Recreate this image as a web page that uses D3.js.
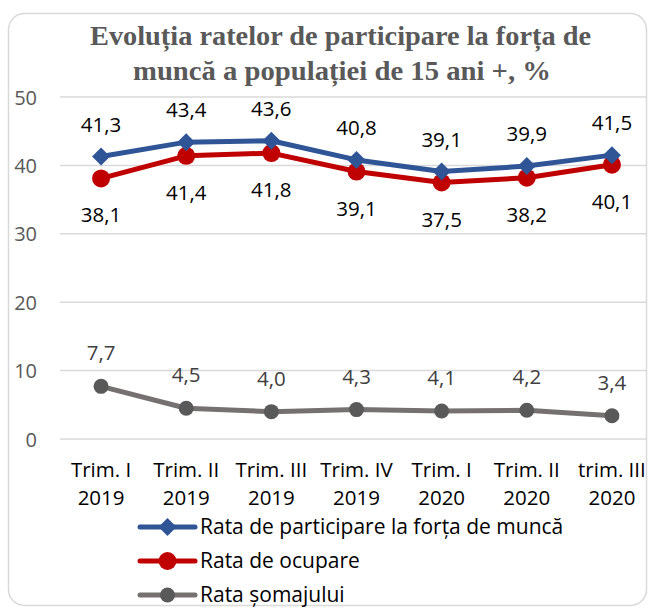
<!DOCTYPE html>
<html><head><meta charset="utf-8">
<script src="https://cdn.jsdelivr.net/npm/d3@7"></script>
<style>html,body{margin:0;padding:0;background:#fff;}svg{display:block;}</style>
</head><body>
<svg id="c" width="648" height="607"></svg>
<script>
const categories = [["Trim. I","2019"],["Trim. II","2019"],["Trim. III","2019"],["Trim. IV","2019"],["Trim. I","2020"],["Trim. II","2020"],["trim. III","2020"]];
const participare = [41.3,43.4,43.6,40.8,39.1,39.9,41.5];
const ocupare = [38.1,41.4,41.8,39.1,37.5,38.2,40.1];
const somaj = [7.7,4.5,4.0,4.3,4.1,4.2,3.4];
const yTicks = [0,10,20,30,40,50];
const seriesNames = ["Rata de participare la forța de muncă","Rata de ocupare","Rata șomajului"];
const titleLines = ["Evoluția ratelor de participare la forța de","muncă a populației de 15 ani +, %"];

const svg = d3.select("#c");
const font = "'Open Sans', Lato, sans-serif";

// border
svg.append("rect").attr("x",8.5).attr("y",13.5).attr("width",638).attr("height",592)
  .attr("rx",16).attr("fill","#fff").attr("stroke","#d9d9d9").attr("stroke-width",1.5);

// title
const titleBox = [{x:90,w:501,y:45},{x:133,w:418,y:80}];
svg.selectAll("text.title").data(titleLines).join("text")
  .attr("class","title")
  .attr("x",(d,i)=>titleBox[i].x).attr("y",(d,i)=>titleBox[i].y)
  .attr("textLength",(d,i)=>titleBox[i].w).attr("lengthAdjust","spacingAndGlyphs")
  .attr("font-family","'Liberation Serif', 'DejaVu Serif', serif").attr("font-weight","bold")
  .attr("font-size",27).attr("fill","#595959").text(d=>d);

const x = d3.scaleBand().domain(d3.range(categories.length)).range([58.5,654.5]).padding(0);
const cx = i => x(i) + x.bandwidth()/2;
const y = d3.scaleLinear().domain([0,50]).range([439,97]);

// gridlines
svg.append("g").selectAll("line").data(yTicks).join("line")
  .attr("x1",60).attr("x2",646).attr("y1",d=>y(d)).attr("y2",d=>y(d))
  .attr("stroke","#d9d9d9").attr("stroke-width",1.5);

// y axis labels
const yAxis = d3.axisLeft(y).tickValues(yTicks).tickSize(0).tickPadding(0);
const gy = svg.append("g").attr("transform","translate(37,0)").call(yAxis);
gy.select(".domain").remove();
gy.selectAll("text").attr("font-family",font).attr("font-size",20).attr("fill","#595959").attr("dy","0.35em");

// x axis labels
const gx = svg.append("g");
categories.forEach((c,i)=>{
  const t = gx.append("text").attr("x",cx(i)).attr("text-anchor","middle")
    .attr("font-family",font).attr("font-size",20.5).attr("fill","#000");
  t.append("tspan").attr("x",cx(i)).attr("y",477).text(c[0]);
  t.append("tspan").attr("x",cx(i)).attr("y",505).text(c[1]);
});

const fmt = v => d3.format(".1f")(v).replace(".",",");
const line = d3.line().x((d,i)=>cx(i)).y(d=>y(d));

const series = [
  {data:participare,color:"#2F5597",marker:"diamond",mcolor:"#2F5597",lab:-25,r:9},
  {data:ocupare,color:"#C00000",marker:"circle",mcolor:"#C00000",lab:44,r:9},
  {data:somaj,color:"#767171",marker:"circle",mcolor:"#595959",lab:-26,r:7.5}
];

function marker(g, s, px, py){
  if(s.marker==="diamond"){
    g.append("path").attr("d",`M${px},${py-s.r}L${px+s.r},${py}L${px},${py+s.r}L${px-s.r},${py}Z`).attr("fill",s.mcolor);
  } else {
    g.append("circle").attr("cx",px).attr("cy",py).attr("r",s.r).attr("fill",s.mcolor);
  }
}

series.slice().reverse().forEach(s=>{
  const g = svg.append("g");
  g.append("path").datum(s.data).attr("d",line).attr("fill","none")
    .attr("stroke",s.color).attr("stroke-width",5).attr("stroke-linejoin","round");
  s.data.forEach((v,i)=>marker(g,s,cx(i),y(v)));
  g.selectAll("text").data(s.data).join("text")
    .attr("x",(d,i)=>cx(i)).attr("y",d=>y(d)+s.lab).attr("text-anchor","middle")
    .attr("font-family",font).attr("font-size",20.5)
    .attr("fill", s===series[2] ? "#404040" : "#000").text(d=>fmt(d));
});

// legend
const lg = svg.append("g");
series.forEach((s,i)=>{
  const ly = 527 + i*34;
  lg.append("line").attr("x1",140).attr("x2",195).attr("y1",ly).attr("y2",ly)
    .attr("stroke",s.color).attr("stroke-width",5).attr("stroke-linecap","round");
  marker(lg,s,167.5,ly);
  lg.append("text").attr("x",200).attr("y",ly).attr("dy","0.35em")
    .attr("font-family",font).attr("font-size",21).attr("fill","#000").text(seriesNames[i]);
});
</script>
</body></html>
